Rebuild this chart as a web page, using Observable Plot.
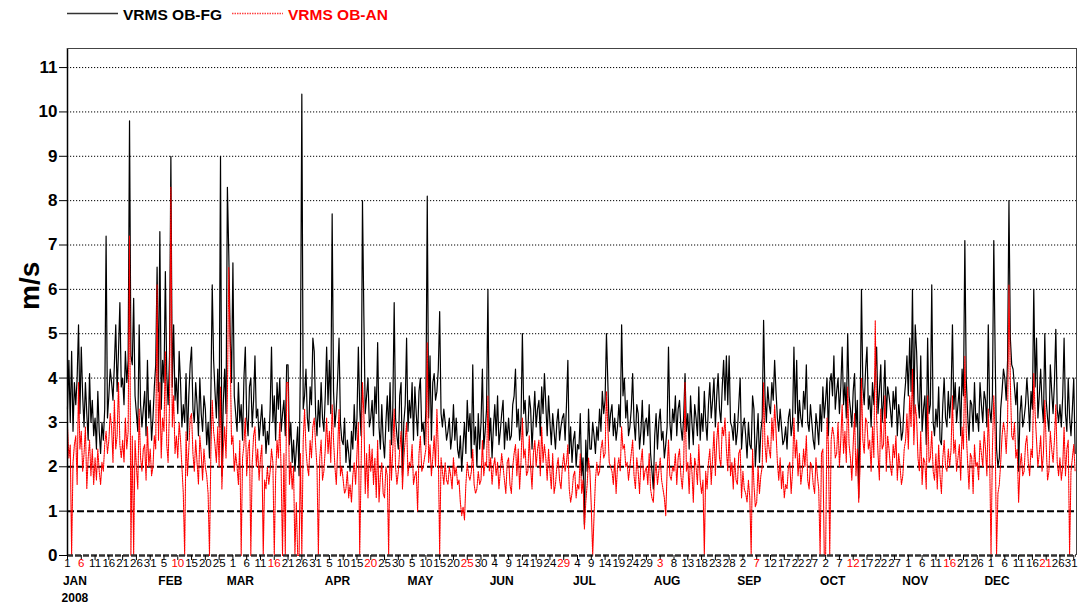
<!DOCTYPE html>
<html><head><meta charset="utf-8">
<script src="https://cdn.jsdelivr.net/npm/d3@7"></script>
<script src="https://cdn.jsdelivr.net/npm/@observablehq/plot@0.6"></script>
<style>
body{margin:0;background:#fff;font-family:Arial,"Liberation Sans",sans-serif;}
svg{display:block;}
</style></head><body>
<div id="legend"></div>
<div id="chart"></div>
<script>
// ---- data (12-hourly values, 2008-01-01 00Z onward) ----
const seriesNames = ["VRMS OB-FG", "VRMS OB-AN"];
const startDate = Date.UTC(2008, 0, 1);
const endDate = Date.UTC(2009, 0, 1);
const stepHours = 12;
const obfg = [
3.3,4.4,3.0,4.6,2.8,3.9,3.4,4.0,5.2,3.2,4.7,3.6,2.9,3.9,3.2,2.6,4.1,3.0,3.5,2.7,
3.1,2.4,3.7,2.8,2.3,3.0,2.6,3.3,7.2,3.1,3.6,4.2,3.9,3.5,4.3,5.2,3.7,4.6,5.7,3.8,
4.0,3.4,4.6,3.9,4.4,9.8,4.5,4.3,5.8,3.6,3.2,2.8,5.2,3.4,2.9,3.3,3.7,2.7,4.4,3.1,
3.5,2.6,3.1,3.8,4.3,6.5,3.7,7.3,3.3,4.4,3.9,6.4,4.1,3.4,4.5,9.0,3.8,5.2,3.5,4.0,
3.2,4.6,3.9,2.9,3.4,3.0,4.1,2.6,3.6,4.3,4.7,3.3,3.0,3.9,3.4,2.7,4.0,3.2,2.8,3.6,
3.3,2.5,3.0,2.2,3.6,6.1,4.4,3.7,3.1,4.2,2.9,9.0,1.8,3.4,4.2,3.2,8.3,6.8,5.0,3.9,
6.6,3.6,3.2,2.8,3.9,3.0,3.4,2.6,4.0,4.7,3.1,2.7,3.8,4.0,2.9,3.5,4.5,3.1,3.3,2.6,
3.0,3.4,2.7,3.1,2.3,2.8,2.5,3.3,4.7,3.0,3.6,2.6,3.9,3.3,4.0,2.8,3.2,3.5,2.7,4.3,
4.3,2.5,3.0,2.1,2.6,1.9,2.4,2.9,1.8,4.4,10.4,3.3,3.6,4.2,3.1,2.8,3.8,3.4,4.9,4.6,
3.2,2.7,3.5,2.9,3.9,3.1,2.8,3.6,4.7,3.4,4.4,3.2,7.7,3.7,2.9,3.3,4.0,4.9,3.0,2.6,
2.5,3.1,2.1,2.6,2.3,1.9,2.8,2.4,3.4,2.6,3.1,4.7,3.3,2.7,8.0,5.4,3.2,3.6,4.0,2.9,
3.1,3.5,2.7,3.8,3.2,4.8,2.9,2.4,3.4,2.6,2.2,3.0,3.6,2.8,3.9,2.5,3.3,5.7,3.1,2.7,
2.4,3.6,3.9,1.8,3.0,3.4,4.9,2.8,3.5,3.1,3.9,2.6,3.8,3.2,2.7,3.7,4.0,2.8,3.0,2.5,
3.3,8.1,3.1,4.5,2.6,3.9,4.1,3.5,3.7,4.2,5.5,3.2,2.9,3.3,3.0,2.6,2.8,3.1,2.4,2.7,
3.4,2.6,3.1,2.4,2.2,2.7,1.9,2.5,3.0,2.3,3.5,2.8,3.2,2.2,4.3,2.5,2.9,2.0,3.2,2.4,
3.0,4.2,2.4,2.8,3.3,6.0,2.6,3.1,2.2,2.9,3.4,2.7,3.6,2.5,2.8,3.2,3.5,2.4,3.0,2.6,
3.1,2.6,2.7,3.4,3.6,4.2,2.9,3.3,2.6,3.0,5.0,3.2,3.5,2.7,2.8,3.6,3.3,2.4,3.1,3.7,
2.9,3.3,3.5,2.7,3.8,3.2,4.1,3.4,2.7,3.6,3.0,2.5,3.2,2.8,2.4,3.0,3.3,2.6,2.9,3.1,
3.2,2.6,3.4,4.4,2.3,2.9,2.1,2.6,2.8,2.0,2.5,2.4,3.2,1.8,2.2,0.7,2.6,1.9,3.3,2.4,
2.4,3.0,2.7,2.3,2.9,2.6,3.3,2.8,3.7,3.2,3.5,5.0,3.9,2.8,3.2,3.4,2.7,3.1,2.6,2.9,
3.4,2.9,5.2,3.6,4.0,3.1,3.5,2.7,2.9,3.3,4.1,3.0,2.6,3.4,3.2,2.4,2.8,3.5,2.5,3.0,
3.1,2.7,3.4,2.3,1.9,1.5,2.7,3.2,2.4,3.0,3.3,2.6,2.8,2.2,2.5,2.9,4.7,3.0,2.6,3.3,
3.0,3.6,2.7,3.3,3.5,2.9,2.6,3.1,4.1,2.8,3.2,2.4,3.6,3.0,2.5,3.4,3.1,2.7,3.8,2.6,
3.2,2.8,3.7,3.0,2.6,3.4,3.9,3.1,3.5,4.0,2.9,3.6,4.1,3.3,3.0,3.8,4.4,3.5,4.5,3.4,
4.5,3.0,2.9,2.6,3.2,2.5,2.8,3.4,4.0,2.4,2.9,3.1,2.7,2.2,3.0,2.5,2.4,3.6,3.3,2.0,
2.6,3.2,2.1,2.8,3.1,5.3,3.6,3.0,3.8,3.4,3.2,3.9,3.5,4.4,3.7,3.1,2.8,3.3,2.9,2.5,
2.6,2.9,2.4,3.1,3.3,2.7,3.0,4.7,3.2,4.4,2.8,3.5,3.1,2.9,3.7,3.3,4.3,3.0,2.8,3.4,
3.0,2.6,2.4,3.2,2.9,2.5,3.4,2.8,3.8,3.1,3.5,4.0,2.7,3.9,4.1,3.6,4.5,3.3,3.7,4.0,
3.2,3.8,4.7,3.4,3.9,3.1,5.0,3.6,3.3,2.9,3.7,4.1,2.9,3.5,1.3,3.2,6.0,3.8,3.4,4.2,
4.7,3.3,3.6,2.9,3.9,3.4,4.1,4.7,3.2,3.7,4.3,3.0,3.5,4.4,3.1,3.8,3.6,3.3,2.9,3.7,
3.3,3.8,2.7,3.4,3.1,2.6,2.8,3.5,3.9,4.5,3.6,4.9,3.7,6.0,3.2,5.2,4.6,3.5,3.1,4.5,
2.8,3.3,3.6,2.5,4.9,3.2,3.4,6.1,3.0,2.7,3.3,2.9,3.8,2.6,2.5,3.4,4.0,3.1,2.9,3.7,
3.1,3.6,5.2,3.3,3.9,3.0,3.4,3.8,2.7,4.2,3.6,7.1,4.0,3.2,2.6,3.5,3.4,2.8,3.9,3.0,
3.2,2.8,3.9,3.4,3.0,3.7,3.5,2.9,5.2,3.3,3.0,3.6,7.1,4.5,2.4,2.0,2.2,3.3,3.7,4.2,
4.0,3.5,4.4,8.0,4.9,4.3,4.2,3.8,3.4,3.9,1.9,3.2,3.6,2.9,3.1,3.4,4.0,3.5,2.8,3.7,
3.3,6.0,3.8,4.9,3.1,3.6,4.2,3.4,3.0,5.0,3.5,3.1,2.8,4.3,3.7,3.2,3.9,5.1,3.3,3.0,
3.4,2.9,3.6,4.9,3.2,2.8,4.0,3.1,2.7,3.3,4.0,2.3
];
const oban = [
2.9,2.2,2.5,0.0,2.1,2.5,2.7,1.6,3.9,2.4,2.8,1.9,2.3,2.9,1.5,2.2,2.6,1.8,2.4,1.6,
2.2,1.7,2.4,1.9,1.6,2.1,1.9,2.5,2.8,2.3,2.6,3.2,2.9,2.1,3.5,2.4,2.7,3.9,2.5,2.2,
2.6,2.1,3.1,2.4,2.8,7.2,0.0,2.7,0.0,2.6,2.0,1.5,3.3,2.2,1.9,2.4,2.5,1.7,2.9,2.0,
2.4,1.8,2.0,2.7,2.4,6.1,2.6,3.9,2.2,3.1,2.8,4.6,2.5,2.1,3.4,8.3,2.9,3.6,2.3,2.7,
2.2,3.0,2.6,2.0,1.4,0.0,2.8,1.8,2.4,3.1,3.2,2.3,1.9,2.6,2.1,1.6,2.7,2.3,1.7,2.4,
2.0,1.8,1.4,0.0,2.3,3.5,2.8,2.5,2.1,2.9,2.0,3.8,1.5,2.4,2.9,2.2,3.6,6.5,4.7,2.5,
2.7,1.9,2.3,2.0,1.6,2.6,0.0,2.2,2.5,3.1,1.8,2.4,2.6,0.0,2.1,2.7,2.9,2.0,2.4,1.7,
2.2,2.5,0.0,1.7,1.5,2.0,1.6,1.9,2.4,2.1,0.0,1.8,2.6,2.2,3.0,1.9,0.0,2.3,0.0,3.9,
3.9,1.6,2.1,1.5,2.0,0.0,1.2,0.0,0.0,2.3,0.0,2.6,3.3,2.4,2.0,1.8,2.6,2.2,2.9,3.1,
2.5,2.0,0.0,2.2,2.6,1.7,1.9,2.4,3.1,2.3,2.8,2.1,3.4,2.6,2.0,1.6,2.4,3.3,1.8,2.0,
1.7,1.4,1.5,1.9,1.3,1.6,1.2,1.8,2.1,1.6,2.3,3.0,0.0,2.0,3.9,3.2,1.4,2.3,1.3,2.5,
1.9,2.4,1.6,2.2,1.3,2.6,1.2,1.8,2.1,1.4,1.3,2.0,1.8,0.0,2.6,1.7,2.4,3.3,2.0,1.6,
1.9,2.4,2.8,1.5,2.2,2.6,3.0,1.8,2.1,2.0,2.5,1.6,1.8,1.9,1.0,2.3,2.7,1.9,2.0,2.2,
2.4,4.8,2.1,2.5,1.8,2.2,2.7,2.0,3.3,2.4,0.0,2.2,1.9,1.6,2.1,1.7,1.6,2.0,1.8,1.5,
2.2,1.8,2.0,1.6,1.7,1.2,0.9,1.1,0.8,1.6,2.1,1.8,1.7,1.9,2.4,1.6,1.4,1.5,1.9,1.6,
1.7,2.6,1.8,2.1,2.0,3.6,1.9,2.2,1.6,2.0,2.2,1.8,2.1,1.5,1.9,2.3,2.0,1.7,1.4,2.1,
2.2,1.6,1.4,2.0,2.3,2.5,1.8,2.4,1.5,2.1,3.1,2.2,2.4,1.8,1.9,2.7,2.0,1.5,2.3,2.6,
2.0,2.4,2.6,1.8,2.9,2.1,2.5,2.2,1.7,2.4,1.9,1.5,2.3,1.4,1.6,2.0,2.2,1.7,1.5,2.0,
2.3,1.9,2.1,2.5,1.5,1.2,1.4,1.8,1.9,1.3,1.6,1.5,2.3,1.4,1.7,0.6,1.2,1.6,2.2,1.9,
1.1,0.0,0.9,1.7,2.1,1.8,1.9,2.4,2.6,2.2,2.3,3.7,2.9,2.1,2.0,1.9,1.6,2.2,1.4,2.0,
2.2,1.9,2.9,2.4,2.5,2.0,2.1,1.7,2.0,2.3,2.6,1.8,1.5,2.2,1.9,1.4,2.1,2.4,1.7,1.9,
2.0,1.6,2.3,1.5,1.3,1.2,1.8,2.1,1.6,1.9,2.2,1.7,1.5,1.3,0.9,1.9,2.6,1.8,1.7,2.0,
1.9,2.3,1.6,2.2,2.4,1.8,1.5,2.0,3.9,1.9,2.1,1.4,2.3,1.9,1.2,2.2,2.0,1.6,2.5,1.7,
1.4,1.7,0.0,1.9,1.5,2.1,2.4,1.6,2.2,2.8,1.8,2.6,3.0,2.2,2.0,2.9,2.7,3.1,2.4,1.9,
2.8,1.8,2.1,1.5,2.2,1.7,1.6,2.3,2.4,1.3,1.9,1.5,1.4,1.2,1.7,1.3,0.0,2.4,1.6,1.1,
1.2,2.0,1.4,1.8,2.0,3.9,2.5,2.1,2.7,2.4,2.2,3.1,2.6,3.4,2.8,2.1,1.7,2.2,1.5,1.9,
1.3,1.6,1.5,2.0,2.1,1.4,1.9,3.1,2.2,2.6,1.8,2.3,1.6,1.9,2.4,2.0,2.7,1.7,1.5,2.1,
2.0,1.6,1.4,2.2,1.8,1.5,0.0,2.3,2.4,0.0,0.0,3.1,2.5,0.0,2.6,2.9,2.7,2.2,2.3,3.0,
2.0,2.6,3.4,2.3,2.8,2.1,3.8,2.5,2.2,1.7,2.5,3.2,1.8,2.4,1.2,2.0,4.0,2.6,2.3,3.1,
3.0,2.4,2.6,1.9,2.9,2.2,5.3,3.1,2.3,1.7,3.3,2.4,2.5,3.6,1.9,2.7,2.4,2.0,1.8,2.5,
2.2,2.7,1.7,2.3,2.0,1.6,1.8,2.4,2.6,3.2,2.4,3.6,2.9,4.2,2.5,3.4,3.1,2.2,1.9,2.8,
1.6,2.2,2.1,1.5,3.6,2.1,2.2,2.8,1.9,1.7,2.3,1.5,2.5,1.8,1.4,2.2,2.6,2.0,1.9,2.4,
2.0,2.4,3.6,2.3,2.6,1.9,2.2,2.5,1.7,2.9,2.4,4.5,2.8,2.1,1.5,2.3,2.2,1.4,2.5,2.0,
2.1,1.7,2.6,2.3,2.0,2.8,2.4,1.8,3.3,2.2,0.0,2.4,3.6,2.7,0.0,1.4,1.6,2.1,2.7,3.0,
2.8,2.3,3.0,6.1,3.9,2.7,2.6,3.0,2.2,2.4,1.2,2.0,2.3,1.8,1.9,2.5,2.7,2.1,1.8,2.4,
2.2,4.1,3.2,2.6,2.0,2.3,2.7,1.9,2.3,3.5,2.5,1.7,1.9,2.8,2.4,2.1,2.6,3.4,2.1,1.8,
2.2,1.7,2.0,2.9,1.8,2.4,2.6,0.0,1.9,2.2,2.5,1.9
];
// ---- axes text ----
const yTicks = [0,1,2,3,4,5,6,7,8,9,10,11];
const dottedGrid = [3,4,5,6,7,8,9,10,11];
const dashedGrid = [1,2];
const yMax = 11.43;
const tickStepDays = 5;
const redTickEvery = 7;
const monthNames = ["JAN","FEB","MAR","APR","MAY","JUN","JUL","AUG","SEP","OCT","NOV","DEC"];
const monthLabelDay = [2.7, 37.3, 62.7, 97.9, 128, 157.5, 187.5, 217.5, 247.3, 277.6, 307.5, 337.2];
const yearLabel = "2008";
const yLabel = "m/s";

const DAY = 864e5;
const toRows = arr => arr.map((v, i) => ({t: new Date(startDate + i * stepHours * 3600e3), v}));
const fg = toRows(obfg), an = toRows(oban);
const xTicks = d3.range(0, 366, tickStepDays).map(k => new Date(startDate + k * DAY));
const nT = xTicks.length;
const isRed = i => i % redTickEvery === 1;
const blackTicks = xTicks.filter((d, i) => !isRed(i) && i < nT - 3);
const redTicks = xTicks.filter((d, i) => isRed(i) && i < nT - 3);
// last three labels are nudged so the crowded year-end labels do not collide
const endTicks = [nT - 3, nT - 2, nT - 1].map(i => ({t: xTicks[i], red: isRed(i)}));
const months = monthNames.map((m, i) => ({m, t: new Date(startDate + monthLabelDay[i] * DAY)}));
const xDomain = [new Date(startDate), new Date(endDate)];

// ---- legend ----
const leg = d3.select("#legend").append("svg").attr("width", 1078).attr("height", 28)
  .style("font-family", "Arial, 'Liberation Sans', sans-serif");
leg.append("line").attr("x1", 67).attr("x2", 118).attr("y1", 13.5).attr("y2", 13.5).attr("stroke", "#333").attr("stroke-width", 1.3);
leg.append("text").attr("x", 123).attr("y", 19.5).attr("font-size", 15.5).attr("font-weight", "bold").attr("fill", "#000").text(seriesNames[0]);
leg.append("line").attr("x1", 232).attr("x2", 283).attr("y1", 13.5).attr("y2", 13.5).attr("stroke", "#ff4040").attr("stroke-width", 1.5).attr("stroke-dasharray", "1.5,1");
leg.append("text").attr("x", 288).attr("y", 19.5).attr("font-size", 15.5).attr("font-weight", "bold").attr("fill", "#ff0000").text(seriesNames[1]);

// ---- chart ----
const tickText = {text: d => String((d.t || d).getUTCDate()), frameAnchor: "bottom", dy: 11, fontSize: 11.5};
const endColor = e => e.red ? "#ff0000" : "#000";
const chart = Plot.plot({
  width: 1078, height: 579,
  marginTop: 20, marginBottom: 52, marginLeft: 67, marginRight: 2,
  style: {fontFamily: "Arial, 'Liberation Sans', sans-serif", background: "#fff", color: "#000", overflow: "visible"},
  x: {type: "utc", domain: xDomain},
  y: {domain: [0, yMax]},
  marks: [
    Plot.ruleY(dottedGrid, {stroke: "#000", strokeWidth: 1, strokeDasharray: "1.2,1.8"}),
    Plot.ruleY(dashedGrid, {stroke: "#000", strokeWidth: 2, strokeDasharray: "7,3"}),
    Plot.lineY(fg, {x: "t", y: "v", stroke: "#000", strokeWidth: 1.2}),
    Plot.lineY(an, {x: "t", y: "v", stroke: "#ff0000", strokeWidth: 1.1, strokeDasharray: "1.5,1"}),
    Plot.ruleY([0], {stroke: "#333", strokeWidth: 2.5, strokeDasharray: "6,2"}),
    Plot.ruleX([xDomain[0]], {stroke: "#000", strokeWidth: 1.5}),
    Plot.ruleX([xDomain[1]], {stroke: "#444", strokeWidth: 1}),
    Plot.ruleY([yMax], {stroke: "#444", strokeWidth: 1}),
    Plot.axisY({ticks: yTicks, tickSize: 8, tickPadding: 2, fontSize: 17, fontWeight: "bold", label: null, tickFormat: d => String(d)}),
    Plot.axisX({ticks: xTicks, tickSize: 5, tickFormat: () => "", label: null}),
    Plot.text(blackTicks, {x: d => d, ...tickText, fill: "#000"}),
    Plot.text(redTicks, {x: d => d, ...tickText, fill: "#ff0000"}),
    Plot.text([endTicks[0]], {x: "t", ...tickText, dx: -0.6, fill: endColor(endTicks[0])}),
    Plot.text([endTicks[1]], {x: "t", ...tickText, dx: -1.8, fill: endColor(endTicks[1])}),
    Plot.text([endTicks[2]], {x: "t", ...tickText, dx: 3.8, textAnchor: "end", fill: endColor(endTicks[2])}),
    Plot.text(months, {x: "t", text: "m", frameAnchor: "bottom", dy: 29, fontSize: 12, fontWeight: "bold"}),
    Plot.text([yearLabel], {x: () => months[0].t, text: d => d, frameAnchor: "bottom", dy: 46, fontSize: 12, fontWeight: "bold"}),
    Plot.text([yLabel], {text: d => d, frameAnchor: "left", dx: -37, dy: 8, rotate: -90, fontSize: 28, fontWeight: "bold"})
  ]
});
document.getElementById("chart").append(chart);
</script>
</body></html>
